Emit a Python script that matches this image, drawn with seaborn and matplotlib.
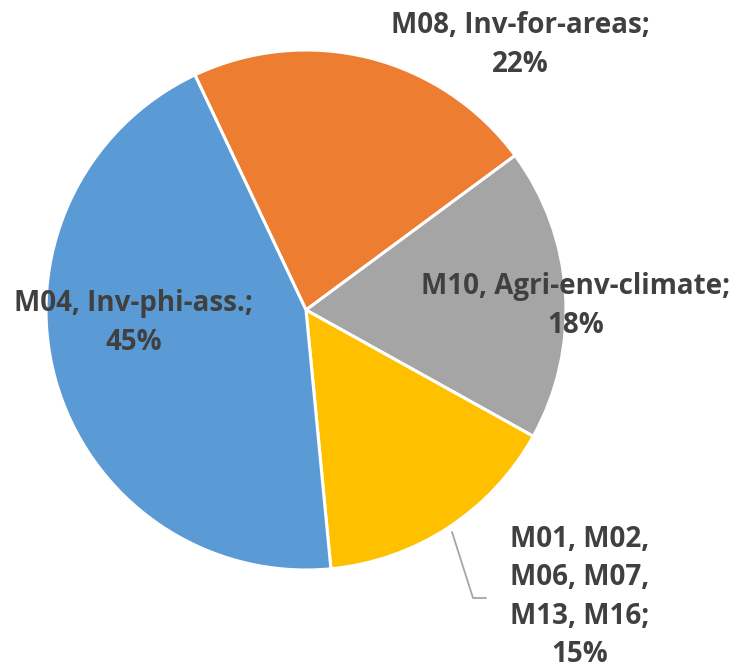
import matplotlib
matplotlib.use("Agg")
import matplotlib.pyplot as plt
import seaborn as sns

sns.set_style("white")
plt.rcParams['font.family'] = ['Open Sans', 'DejaVu Sans']

categories = ["M08, Inv-for-areas", "M10, Agri-env-climate",
              "M01, M02,\nM06, M07,\nM13, M16", "M04, Inv-phi-ass."]
values = [21.9, 18.2, 15.4, 44.5]
colors = ["#ED7D31", "#A5A5A5", "#FFC000", "#5B9BD5"]
pcts = ["22%", "18%", "15%", "45%"]

W, H = 731, 671
fig = plt.figure(figsize=(W / 100, H / 100), dpi=100)
cx, cy, R = 306, 310, 260
ax = fig.add_axes([(cx - R) / W, (H - cy - R) / H, 2 * R / W, 2 * R / H])
ax.pie(values, colors=colors, startangle=115.3, counterclock=False, radius=1,
       wedgeprops=dict(edgecolor="white", linewidth=2.2))
ax.set_xlim(-1, 1)
ax.set_ylim(-1, 1)
ax.axis("off")

def px(x, y):
    return ((x - cx) / R, (cy - y) / R)

label_pos = [(520, 45), (576, 306), (580, 597), (134, 323)]
txt_color = "#404040"
for cat, p, pos in zip(categories, pcts, label_pos):
    ax.text(*px(*pos), f"{cat};\n{p}", ha="center", va="center",
            fontsize=20, fontweight="bold", color=txt_color,
            linespacing=1.42, clip_on=False)

lx, ly = zip(px(452, 532), px(473, 598), px(486, 598))
ax.plot(lx, ly, color="#A6A6A6", lw=1.3, clip_on=False)

fig.savefig("out.png", dpi=100)
